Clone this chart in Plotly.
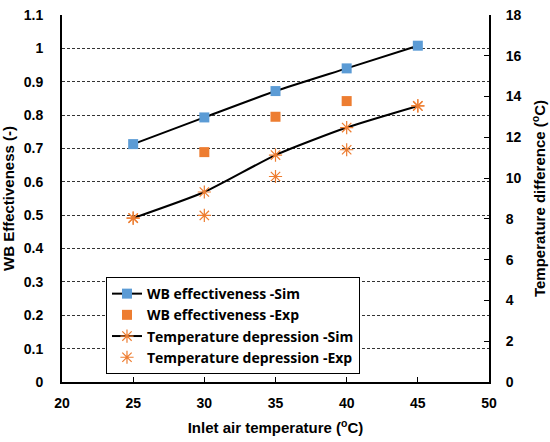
import plotly.graph_objects as go

x_sim = [25, 30, 35, 40, 45]
wb_sim = [0.713, 0.793, 0.872, 0.940, 1.008]
x_wb_exp = [30, 35, 40]
wb_exp = [0.689, 0.795, 0.842]
td_sim = [8.04, 9.32, 11.13, 12.48, 13.54]
x_td_exp = [25, 30, 35, 40, 45]
td_exp = [8.04, 8.17, 10.08, 11.39, 13.54]

left_ticks = [0, 0.1, 0.2, 0.3, 0.4, 0.5, 0.6, 0.7, 0.8, 0.9, 1.0, 1.1]
left_labels = ["0", "0.1", "0.2", "0.3", "0.4", "0.5", "0.6", "0.7", "0.8", "0.9", "1", "1.1"]

blue = "#5B9BD5"
orange = "#ED7D31"

fig = go.Figure()
fig.add_trace(go.Scatter(
    x=x_sim, y=wb_sim, name="WB effectiveness -Sim", mode="lines+markers",
    line=dict(color="black", width=2, shape="spline", smoothing=0.6),
    marker=dict(symbol="square", size=10, color=blue),
))
fig.add_trace(go.Scatter(
    x=x_wb_exp, y=wb_exp, name="WB effectiveness -Exp", mode="markers",
    marker=dict(symbol="square", size=10, color=orange),
))
fig.add_trace(go.Scatter(
    x=x_sim, y=td_sim, name="Temperature depression -Sim", mode="lines+markers",
    yaxis="y2",
    line=dict(color="black", width=2, shape="spline", smoothing=0.6),
    marker=dict(symbol="asterisk-open", size=11, color=orange, line=dict(color=orange, width=1.2)),
))
fig.add_trace(go.Scatter(
    x=x_td_exp, y=td_exp, name="Temperature depression -Exp", mode="markers",
    yaxis="y2",
    marker=dict(symbol="asterisk-open", size=11, color=orange, line=dict(color=orange, width=1.2)),
))

tickfont = dict(family="Liberation Sans, Arial", size=14, color="black", weight="bold")
titlefont = dict(family="Liberation Sans, Arial", size=15, color="black", weight="bold")

fig.update_layout(
    width=550, height=442,
    margin=dict(l=62, r=61, t=15, b=60, autoexpand=False),
    plot_bgcolor="white", paper_bgcolor="white",
    showlegend=True,
    legend=dict(
        x=0.103, y=0.286, xanchor="left", yanchor="top",
        bordercolor="black", borderwidth=1, bgcolor="white",
        font=dict(family="Open Sans", size=14, color="black", weight="bold"),
        tracegroupgap=0, itemwidth=30,
    ),
    xaxis=dict(
        range=[20, 50], dtick=5, tick0=20,
        showline=True, linecolor="black", linewidth=2, mirror=False,
        ticks="inside", ticklen=5, tickcolor="black", tickwidth=1,
        ticklabelstandoff=7, automargin=False,
        showgrid=False, zeroline=False,
        tickfont=tickfont,
        title=dict(text="Inlet air temperature (<sup>o</sup>C)", font=titlefont, standoff=13),
    ),
    yaxis=dict(
        range=[0, 1.1], tickvals=left_ticks, ticktext=left_labels,
        showline=True, linecolor="black", linewidth=2,
        ticks="", showgrid=True, gridcolor="#333333", gridwidth=1.2, griddash="3px,2px",
        ticklabelstandoff=14, automargin=False,
        zeroline=False,
        tickfont=tickfont,
        title=dict(text="WB Effectiveness (-)", font=titlefont, standoff=8),
    ),
    yaxis2=dict(
        range=[0, 18], dtick=2, tick0=0, overlaying="y", side="right",
        showline=True, linecolor="black", linewidth=2,
        ticks="inside", ticklen=5, tickcolor="black",
        ticklabelstandoff=12, automargin=False,
        showgrid=False, zeroline=False,
        tickfont=tickfont,
        title=dict(text="Temperature difference (<sup>o</sup>C)", font=titlefont, standoff=14),
    ),
)

fig.write_html("out.html")
